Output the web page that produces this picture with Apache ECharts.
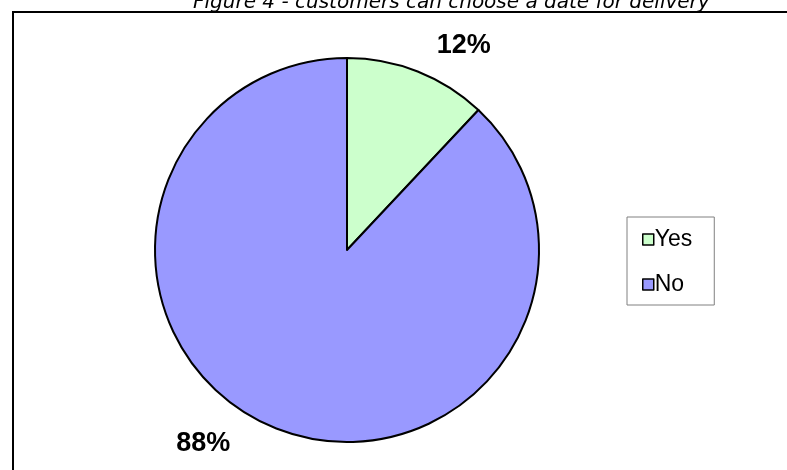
<!DOCTYPE html>
<html>
<head>
<meta charset="utf-8">
<style>
  html, body { margin: 0; padding: 0; background: #fff; }
  #chart { width: 787px; height: 470px; }
</style>
<script src="https://cdn.jsdelivr.net/npm/echarts@6/dist/echarts.min.js"></script>
</head>
<body>
<div id="chart"></div>
<script>
// Survey answers: share of customers who can pick a delivery date
const categories = ['Yes', 'No'];
const shares = [12, 88];
const sliceColors = ['#CCFFCC', '#9999FF'];
const titleText = 'Figure 4 - customers can choose a date for delivery';

const chart = echarts.init(document.getElementById('chart'), null, { renderer: 'canvas' });

// small nudges for the outside percentage labels
const labelNudge = [{ dx: 3, dy: 2 }, { dx: -30, dy: -13 }];

chart.setOption({
  animation: false,
  backgroundColor: '#ffffff',
  title: {
    text: titleText,
    left: 188,
    top: -12,
    textStyle: {
      fontFamily: 'DejaVu Sans',
      fontStyle: 'italic',
      fontWeight: 'normal',
      fontSize: 20,
      color: '#000'
    }
  },
  graphic: [{
    type: 'rect',
    shape: { x: 13, y: 12, width: 800, height: 480 },
    style: { fill: 'none', stroke: '#000', lineWidth: 2 },
    z: 100
  }],
  legend: {
    orient: 'vertical',
    left: 627,
    top: 217,
    padding: [11, 22, 9, 15],
    itemGap: 22,
    itemWidth: 11,
    itemHeight: 11,
    borderColor: '#808080',
    borderWidth: 1,
    icon: 'rect',
    itemStyle: { borderColor: '#000', borderWidth: 1.5 },
    textStyle: {
      fontFamily: 'Liberation Sans',
      fontSize: 23,
      lineHeight: 23,
      color: '#000',
      padding: [0, 0, 0, -4]
    },
    data: categories
  },
  series: [{
    type: 'pie',
    center: [347, 250],
    radius: 192,
    startAngle: 90,
    clockwise: true,
    data: categories.map((name, i) => ({
      name,
      value: shares[i],
      itemStyle: { color: sliceColors[i] }
    })),
    itemStyle: { borderColor: '#000', borderWidth: 2 },
    emphasis: { disabled: true },
    label: {
      show: true,
      position: 'outside',
      formatter: '{c}%',
      fontFamily: 'Liberation Sans',
      fontWeight: 'bold',
      fontSize: 27,
      color: '#000'
    },
    labelLine: { show: false, length: 30, length2: 0 },
    labelLayout: (p) => labelNudge[p.dataIndex]
  }]
});
</script>
</body>
</html>
